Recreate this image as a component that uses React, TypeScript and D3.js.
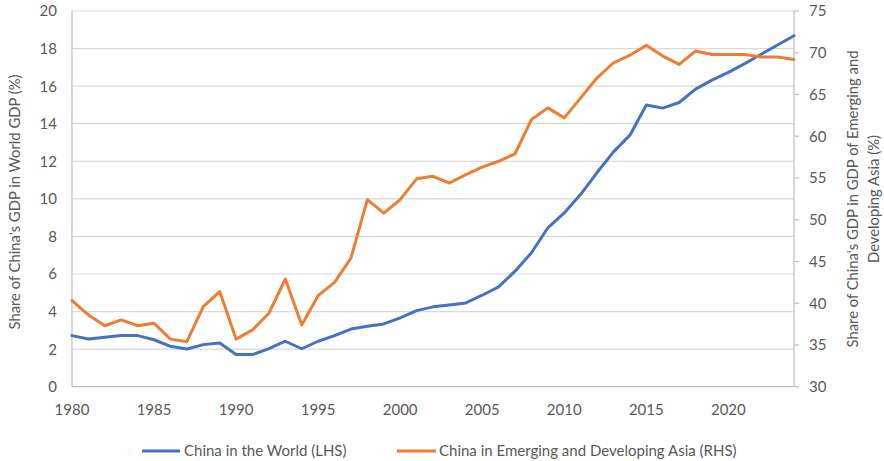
import React from "react";
import * as d3 from "d3";

const years: number[] = d3.range(1980, 2025);
const worldShare: number[] = [
  2.72, 2.54, 2.63, 2.72, 2.72, 2.5, 2.15, 2.01, 2.24, 2.33,
  1.71, 1.71, 2.03, 2.42, 2.02, 2.42, 2.72, 3.07, 3.22, 3.34,
  3.66, 4.05, 4.25, 4.35, 4.46, 4.87, 5.31, 6.15, 7.13, 8.46,
  9.25, 10.24, 11.4, 12.5, 13.39, 15.0, 14.83, 15.13, 15.84, 16.32,
  16.73, 17.2, 17.7, 18.19, 18.68,
];
const asiaShare: number[] = [
  40.3, 38.6, 37.3, 38.0, 37.3, 37.6, 35.7, 35.4, 39.6, 41.4,
  35.7, 36.8, 38.8, 42.9, 37.4, 40.9, 42.5, 45.4, 52.4, 50.8,
  52.4, 54.9, 55.2, 54.4, 55.4, 56.3, 57.0, 57.9, 62.0, 63.4,
  62.2, 64.6, 67.0, 68.8, 69.7, 70.9, 69.6, 68.6, 70.2, 69.8,
  69.8, 69.8, 69.5, 69.5, 69.2,
];
const leftTicks: number[] = d3.range(0, 21, 2);
const rightTicks: number[] = d3.range(30, 76, 5);
const xTicks: number[] = d3.range(1980, 2021, 5);
const seriesNames: string[] = ["China in the World (LHS)", "China in Emerging and Developing Asia (RHS)"];
const leftTitle = "Share of China's GDP in World GDP (%)";
const rightTitle: string[] = ["Share of China's GDP in GDP of Emerging and", "Developing Asia (%)"];

const W = 884;
const H = 461;
const m = { left: 72, right: 794, top: 11, bottom: 386.7 };
const FONT = "Lato, 'Open Sans', sans-serif";
const TXT = "#595959";
const BLUE = "#4472C4";
const ORANGE = "#ED7D31";

export default function App() {
  const x = d3.scaleLinear().domain([1980, 2024]).range([m.left, m.right]);
  const yL = d3.scaleLinear().domain([0, 20]).range([m.bottom, m.top]);
  const yR = d3.scaleLinear().domain([30, 75]).range([m.bottom, m.top]);

  const lineL = d3.line<number>().x((_, i) => x(years[i])).y((d) => yL(d));
  const lineR = d3.line<number>().x((_, i) => x(years[i])).y((d) => yR(d));

  return (
    <svg width={W} height={H} style={{ position: "absolute", left: 0, top: 0, background: "#fff" }} fontFamily={FONT}>
      {/* gridlines */}
      {leftTicks.filter((t) => t > 0).map((t) => (
        <line key={"g" + t} x1={m.left} x2={m.right} y1={yL(t)} y2={yL(t)} stroke="#d9d9d9" strokeWidth={1.2} />
      ))}
      {/* axes */}
      <line x1={m.left} x2={m.left} y1={m.top} y2={m.bottom} stroke="#bfbfbf" strokeWidth={1.2} />
      <line x1={m.right} x2={m.right} y1={m.top} y2={m.bottom} stroke="#bfbfbf" strokeWidth={1.2} />
      <line x1={m.left} x2={m.right} y1={m.bottom} y2={m.bottom} stroke="#bfbfbf" strokeWidth={1.2} />
      {rightTicks.map((t) => (
        <line key={"rt" + t} x1={m.right} x2={m.right + 5} y1={yR(t)} y2={yR(t)} stroke="#bfbfbf" strokeWidth={1.2} />
      ))}
      {/* left tick labels */}
      {leftTicks.map((t) => (
        <text key={"lt" + t} x={57} y={yL(t)} dy="0.36em" textAnchor="end" fontSize={15} fill={TXT}>
          {t}
        </text>
      ))}
      {/* right tick labels */}
      {rightTicks.map((t) => (
        <text key={"rl" + t} x={809} y={yR(t)} dy="0.36em" textAnchor="start" fontSize={15} fill={TXT}>
          {t}
        </text>
      ))}
      {/* x tick labels */}
      {xTicks.map((t) => (
        <text key={"xt" + t} x={x(t)} y={410} dy="0.36em" textAnchor="middle" fontSize={15} fill={TXT}>
          {t}
        </text>
      ))}
      {/* axis titles */}
      <text transform={`translate(20,202) rotate(-90)`} textAnchor="middle" fontSize={14.8} fill={TXT}>
        {leftTitle}
      </text>
      <text transform={`translate(858,199) rotate(-90)`} textAnchor="middle" fontSize={14.8} fill={TXT}>
        {rightTitle[0]}
      </text>
      <text transform={`translate(879,199) rotate(-90)`} textAnchor="middle" fontSize={14.8} fill={TXT}>
        {rightTitle[1]}
      </text>
      {/* series */}
      <path d={lineL(worldShare) ?? ""} fill="none" stroke={BLUE} strokeWidth={3} strokeLinejoin="round" strokeLinecap="round" />
      <path d={lineR(asiaShare) ?? ""} fill="none" stroke={ORANGE} strokeWidth={3} strokeLinejoin="round" strokeLinecap="round" />
      {/* legend */}
      <line x1={142} x2={180} y1={451} y2={451} stroke={BLUE} strokeWidth={3} />
      <text x={184} y={451} dy="0.36em" fontSize={15} fill={TXT}>{seriesNames[0]}</text>
      <line x1={397} x2={436} y1={451} y2={451} stroke={ORANGE} strokeWidth={3} />
      <text x={439} y={451} dy="0.36em" fontSize={15} fill={TXT}>{seriesNames[1]}</text>
    </svg>
  );
}
